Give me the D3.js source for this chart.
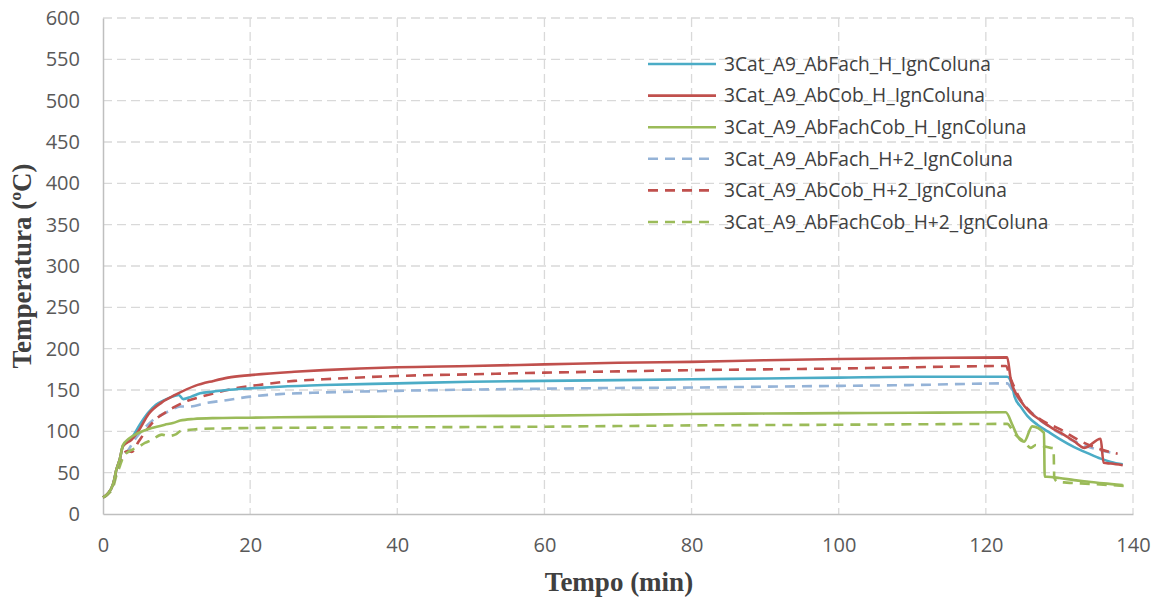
<!DOCTYPE html>
<html><head><meta charset="utf-8">
<script src="https://cdn.jsdelivr.net/npm/d3@7"></script>
<style>
body{margin:0;background:#fff;}
svg{display:block;}
</style></head>
<body><svg id="c" width="1160" height="603"></svg>
<script>
// ---- data ----
const seriesNames = [
  "3Cat_A9_AbFach_H_IgnColuna",
  "3Cat_A9_AbCob_H_IgnColuna",
  "3Cat_A9_AbFachCob_H_IgnColuna",
  "3Cat_A9_AbFach_H+2_IgnColuna",
  "3Cat_A9_AbCob_H+2_IgnColuna",
  "3Cat_A9_AbFachCob_H+2_IgnColuna"
];
const xTicks = [0,20,40,60,80,100,120,140];
const yTicks = [0,50,100,150,200,250,300,350,400,450,500,550,600];

const fachH_t = [0,0.7,1.4,1.8,2.3,2.7,3.9,5,6.1,7.2,8.4,9.8,10.3,10.9,12,13.2,15,16.8,20,24,30,40,50,60,70,80,90,100,110,122.9,123.6,123.9,124.8,125.7,127,128.4,130,132,134,135.6,137,138.6];
const fachH_v = [20,25,37,53,67,82,92,108,122,132,138,143,144,139,142,146,148,150,152,154,156,158,160,161,162,163,164,165,166,166,154,142,129,118,108,100,91,81,73,67,63,60];

const cobH_t = [0,0.7,1.4,1.8,2.3,2.7,3.9,4.8,6.2,8,9.8,12.5,15,17,20,26,30,40,50,60,70,80,90,100,110,122.9,123.4,124.8,126,127.5,129,130.2,132,133.4,135.6,136.0,137,138.6];
const cobH_v = [20,25,37,53,67,82,90,100,121,135,144,155,161,165,168,172,174,177.5,179,181,183,184,186,187.5,188.5,189.5,162,136,123,113,104,98,88,80,91,62,61,59];

const fachCobH_t = [0,0.7,1.4,1.8,2.3,2.7,3.5,4.8,6.6,8.4,9.5,10.5,12.3,15,20,24,30,40,50,60,70,80,90,100,110,122.7,123.6,124.3,125.2,126.3,127.9,128.0,128.3,130,132,134,136,138.6];
const fachCobH_v = [20,25,37,53,67,83,91,98,104,108,110,113,115,116,116.5,117,117.5,118,118.5,119,120,121,121.5,122,122.5,123,108,94,87.5,106,98,45,45,43.5,41,39,37,35];

const fachH2_t = [0,0.7,1.4,1.8,2.3,2.7,3.4,4.3,5.3,6.2,7.1,8.2,9.3,10.5,11.8,13.9,17,20,24,30,40,50,60,70,80,90,100,110,122.9,123.6,124.5,125.7,127,128.4,130,132,134,136.6,137.9];
const fachH2_v = [20,25,36,50,62,72,77,90,101,109,116,121,126,130,130,134,138,142,145,147,149,150.5,151.6,152.5,153,154,155,156,158,150,139,127,116,107,98,88,81,75,73];

const cobH2_t = [0,0.7,1.4,1.8,2.3,2.7,3.4,3.9,4.8,5.8,7.1,8.5,9.8,11.5,13.4,15.5,18,22,26,30,40,50,60,70,80,90,100,110,122.7,123.4,124.8,126,127.5,130.2,132.9,135,137.9];
const cobH2_v = [20,25,36,50,62,72,76,75,87,100,114,123,130,137,142,147,152,157,161,163,167,169,171,172.5,174,175,176,177.5,179,163,137,124,114,102,88,80,73];

const fachCobH2_t = [0,0.7,1.4,1.8,2.3,2.7,3.4,4.8,5.7,6.6,8,8.9,9.8,10.7,11.5,13.4,16,20,30,40,50,60,70,80,90,100,110,122.9,123.9,125.2,126.1,126.8,128.8,129.2,129.3,129.7,131,132.9,135,138.8];
const fachCobH2_v = [20,24,33,46,58,68,75,81,86,89.5,96,94.4,96,101,101.5,103,103.5,104,104.5,104.8,105.2,105.6,106.4,107.2,107.6,108,108.5,109,97,87.5,80,83.5,80,79.5,44,39,38,37,36,34];

const seriesT = [fachH_t, cobH_t, fachCobH_t, fachH2_t, cobH2_t, fachCobH2_t];
const seriesV = [fachH_v, cobH_v, fachCobH_v, fachH2_v, cobH2_v, fachCobH2_v];
const seriesColor = ["#4BACC6","#C0504D","#9BBB59","#95B3D7","#C0504D","#9BBB59"];
const seriesDash = [null,null,null,"10,7","10,7","10,7"];

// ---- layout ----
const svg = d3.select("#c");
const L = 103, R = 1133, T = 18, B = 514;
const x = d3.scaleLinear().domain([0,140]).range([L,R]);
const y = d3.scaleLinear().domain([0,600]).range([B,T]);
const grid = "#d9d9d9";

// gridlines
svg.append("g").selectAll("line").data(yTicks.filter(d=>d>0)).join("line")
  .attr("x1",L).attr("x2",R).attr("y1",d=>y(d)).attr("y2",d=>y(d))
  .attr("stroke",grid).attr("stroke-width",1.3).attr("stroke-dasharray","9,5");
svg.append("g").selectAll("line").data(xTicks.filter(d=>d>0)).join("line")
  .attr("x1",d=>x(d)).attr("x2",d=>x(d)).attr("y1",T).attr("y2",B)
  .attr("stroke",grid).attr("stroke-width",1.3).attr("stroke-dasharray","9,5");

// axes
const xAxis = svg.append("g").attr("transform",`translate(0,${B})`)
  .call(d3.axisBottom(x).tickValues(xTicks).tickSize(0).tickPadding(24).tickFormat(d3.format("d")));
const yAxis = svg.append("g").attr("transform",`translate(${L},0)`)
  .call(d3.axisLeft(y).tickValues(yTicks).tickSize(0).tickPadding(23).tickFormat(d3.format("d")));
[xAxis,yAxis].forEach(g=>{
  g.select(".domain").attr("stroke","#bfbfbf").attr("stroke-width",1.5);
  g.selectAll("text").attr("font-family","'Open Sans', sans-serif").attr("font-size",20).attr("fill","#595959");
});

// series
const line = d3.line().x(d=>x(d[0])).y(d=>y(d[1])).curve(d3.curveMonotoneX);
const order = [3,4,5,0,1,2];
order.forEach(i=>{
  const pts = seriesT[i].map((t,k)=>[t, seriesV[i][k]]);
  svg.append("path").attr("d",line(pts)).attr("fill","none")
    .attr("stroke",seriesColor[i]).attr("stroke-width",2.6)
    .attr("stroke-dasharray",seriesDash[i]);
});

// legend
const lg = svg.append("g");
const rowY = d3.scaleLinear().domain([0,5]).range([64,222]);
seriesNames.forEach((n,i)=>{
  lg.append("line").attr("x1",648).attr("x2",716).attr("y1",rowY(i)).attr("y2",rowY(i))
    .attr("stroke",seriesColor[i]).attr("stroke-width",2.6).attr("stroke-dasharray",seriesDash[i]);
  lg.append("text").attr("x",724).attr("y",rowY(i)).attr("dy","0.35em")
    .attr("font-family","'Open Sans', sans-serif").attr("font-size",19.2).attr("fill","#404040").text(n);
});

// axis titles
svg.append("text").attr("x",619).attr("y",591).attr("text-anchor","middle")
  .attr("font-family","'Liberation Serif', serif").attr("font-weight","bold").attr("font-size",27)
  .attr("fill","#404040").text("Tempo (min)");
svg.append("text").attr("transform","translate(31,266) rotate(-90)").attr("text-anchor","middle")
  .attr("font-family","'Liberation Serif', serif").attr("font-weight","bold").attr("font-size",27)
  .attr("fill","#404040").text("Temperatura (ºC)");
</script></body></html>
